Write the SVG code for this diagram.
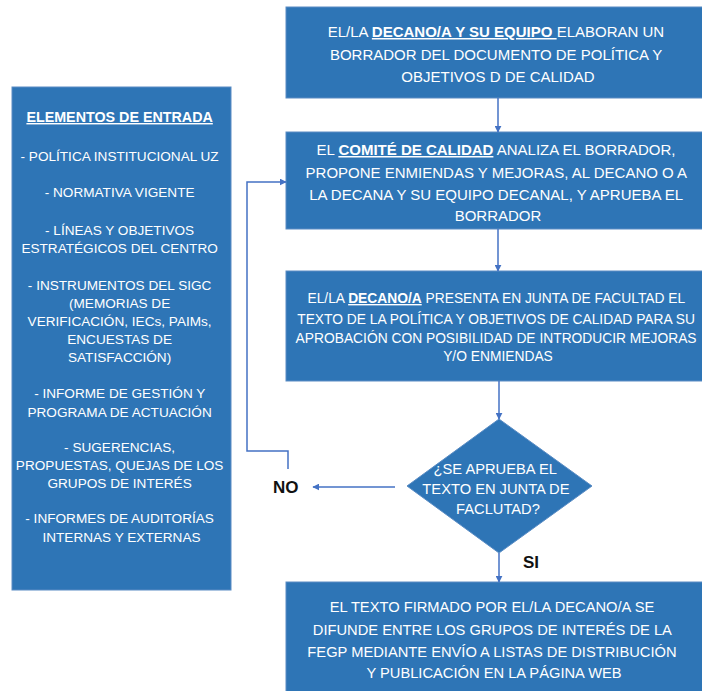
<svg xmlns="http://www.w3.org/2000/svg" width="702" height="691" viewBox="0 0 702 691">
<style>
.box{fill:#2E75B6;stroke:#5A8CC4;stroke-width:1}
.t{font-family:"Liberation Sans",Arial,sans-serif;fill:#FFFFFF;text-anchor:middle}
.r15{font-size:15px}
.r14{font-size:13.8px}
.r147{font-size:14.7px}
.l{font-size:13.6px}
.b{font-weight:bold}
.u{font-weight:bold;text-decoration:underline}
.lbl{font-family:"Liberation Sans",Arial,sans-serif;font-weight:bold;font-size:17px;fill:#111111}
.c{fill:none;stroke:#4472C4;stroke-width:1.5}
</style>
<defs>
<marker id="ah" viewBox="0 0 10 10" refX="9" refY="5" markerWidth="7" markerHeight="7" markerUnits="userSpaceOnUse" orient="auto">
<path d="M0,0 L10,5 L0,10 Z" fill="#4472C4"/>
</marker>
</defs>
<rect width="702" height="691" fill="#FFFFFF"/>

<g id="entrada">
<rect class="box" x="12" y="87" width="219" height="503"/>
<text class="t l" x="121.5"><tspan class="u" x="121.5" y="122" font-size="14.3">ELEMENTOS DE ENTRADA</tspan>
<tspan x="121.5" y="161">- POLÍTICA INSTITUCIONAL UZ</tspan>
<tspan x="121.5" y="197">- NORMATIVA VIGENTE</tspan>
<tspan x="121.5" y="235">- LÍNEAS Y OBJETIVOS</tspan>
<tspan x="121.5" y="253">ESTRATÉGICOS DEL CENTRO</tspan>
<tspan x="121.5" y="290">- INSTRUMENTOS DEL SIGC</tspan>
<tspan x="121.5" y="308">(MEMORIAS DE</tspan>
<tspan x="121.5" y="326">VERIFICACIÓN, IECs, PAIMs,</tspan>
<tspan x="121.5" y="344">ENCUESTAS DE</tspan>
<tspan x="121.5" y="362">SATISFACCIÓN)</tspan>
<tspan x="121.5" y="398">- INFORME DE GESTIÓN Y</tspan>
<tspan x="121.5" y="417">PROGRAMA DE ACTUACIÓN</tspan>
<tspan x="121.5" y="452">- SUGERENCIAS,</tspan>
<tspan x="121.5" y="470">PROPUESTAS, QUEJAS DE LOS</tspan>
<tspan x="121.5" y="488">GRUPOS DE INTERÉS</tspan>
<tspan x="121.5" y="523">-  INFORMES DE AUDITORÍAS</tspan>
<tspan x="121.5" y="542">INTERNAS Y EXTERNAS</tspan></text>
</g>

<g id="borrador">
<rect class="box" x="286" y="7" width="426" height="91"/>
<text class="t r15"><tspan x="498" y="37">EL/LA <tspan class="u">DECANO/A Y SU EQUIPO </tspan>ELABORAN UN</tspan>
<tspan x="498" y="60">BORRADOR DEL DOCUMENTO DE POLÍTICA Y</tspan>
<tspan x="498" y="82">OBJETIVOS D DE CALIDAD</tspan></text>
</g>

<g id="comite">
<rect class="box" x="286" y="132" width="426" height="97"/>
<text class="t r15"><tspan x="498" y="155">EL <tspan class="u">COMITÉ DE CALIDAD</tspan> ANALIZA EL BORRADOR,</tspan>
<tspan x="498" y="178">PROPONE ENMIENDAS Y MEJORAS, AL DECANO O A</tspan>
<tspan x="498" y="200">LA DECANA Y SU EQUIPO DECANAL, Y APRUEBA EL</tspan>
<tspan x="498" y="221">BORRADOR</tspan></text>
</g>

<g id="junta">
<rect class="box" x="286" y="271" width="426" height="110"/>
<text class="t r14"><tspan x="498" y="303">EL/LA <tspan class="u">DECANO/A</tspan> PRESENTA EN JUNTA DE FACULTAD EL</tspan>
<tspan x="498" y="324">TEXTO DE LA POLÍTICA Y OBJETIVOS DE CALIDAD PARA SU</tspan>
<tspan x="498" y="343">APROBACIÓN CON POSIBILIDAD DE INTRODUCIR MEJORAS</tspan>
<tspan x="498" y="361">Y/O ENMIENDAS</tspan></text>
</g>

<g id="decision">
<polygon class="box" points="499,419 592,486 499,553 407,486"/>
<text class="t r147"><tspan x="497" y="474">¿SE APRUEBA EL</tspan>
<tspan x="498" y="494">TEXTO EN JUNTA DE</tspan>
<tspan x="498" y="514">FACLUTAD?</tspan></text>
</g>

<g id="difusion">
<rect class="box" x="286" y="582" width="426" height="120"/>
<text class="t r147"><tspan x="494" y="612">EL TEXTO FIRMADO POR EL/LA DECANO/A SE</tspan>
<tspan x="494" y="635">DIFUNDE ENTRE LOS GRUPOS DE INTERÉS DE LA</tspan>
<tspan x="494" y="657">FEGP MEDIANTE ENVÍO A LISTAS DE DISTRIBUCIÓN</tspan>
<tspan x="494" y="678">Y PUBLICACIÓN EN LA PÁGINA WEB</tspan></text>
</g>

<g id="connectors">
<line class="c" x1="498" y1="98" x2="498" y2="132" marker-end="url(#ah)"/>
<line class="c" x1="498" y1="229" x2="498" y2="271" marker-end="url(#ah)"/>
<line class="c" x1="499" y1="381" x2="499" y2="419" marker-end="url(#ah)"/>
<line class="c" x1="499" y1="553" x2="499" y2="582" marker-end="url(#ah)"/>
<line class="c" x1="395" y1="487" x2="313" y2="487" marker-end="url(#ah)"/>
<polyline class="c" points="288,469 288,451 247,451 247,182 286,182" marker-end="url(#ah)"/>
<text class="lbl" x="273" y="493">NO</text>
<text class="lbl" x="523" y="568">SI</text>
</g>
</svg>
